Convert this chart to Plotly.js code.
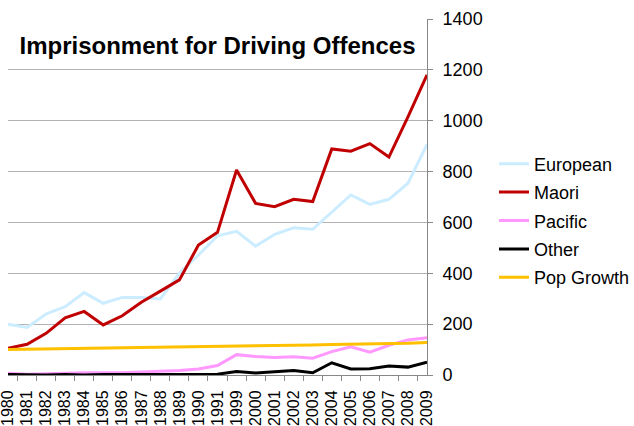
<!DOCTYPE html>
<html>
<head>
<meta charset="utf-8">
<script src="https://cdn.plot.ly/plotly-3.0.1.min.js"></script>
<style>html,body{margin:0;padding:0;background:#fff;}#chart{width:634px;height:426px;}</style>
</head>
<body>
<div id="chart"></div>
<script>
const years = ["1980","1981","1982","1983","1984","1985","1986","1987","1988","1989","1990","1991","1999","2000","2001","2002","2003","2004","2005","2006","2007","2008","2009"];
const european = [200,187,240,269,324,282,305,305,299,400,472,547,565,507,553,579,573,642,708,671,691,754,907];
const maori = [105,121,164,225,250,197,233,286,330,374,511,561,806,675,662,691,682,889,880,910,857,1015,1180];
const pacific = [7,3,5,8,9,9,9,12,14,18,24,37,80,73,69,72,66,92,111,90,117,138,147];
const other = [2,0,0,2,0,2,2,2,2,2,2,3,14,8,13,18,9,48,24,25,35,31,50];
const popGrowth = [100,101,102,104,105,106,107,108,109,110,112,113,114,115,116,117,118,120,121,122,123,125,128];
const yTicks = [0,200,400,600,800,1000,1200,1400];

const font = "Liberation Sans, Arial, sans-serif";
function tr(name, y, color, g){
  return {type:'scatter', mode:'lines', name:name, x:years, y:y, legendgroup:g,
    line:{color:color, width:3}, hoverinfo:'skip'};
}
const data = [
  tr('European', european, '#CCECFF', 'a'),
  tr('Maori', maori, '#C00000', 'b'),
  tr('Pacific', pacific, '#FF99FF', 'c'),
  tr('Other', other, '#000000', 'd'),
  tr('Pop Growth', popGrowth, '#FFC000', 'e')
];
const layout = {
  width:634, height:426,
  margin:{l:8, r:207, t:19, b:51},
  paper_bgcolor:'#fff', plot_bgcolor:'#fff',
  font:{family:font, color:'#000'},
  title:{text:'<b>Imprisonment for Driving Offences</b>', font:{family:font, size:24, color:'#000'},
    xref:'paper', x:0.5, xanchor:'center', yref:'container', y:1-46/426, yanchor:'middle'},
  xaxis:{type:'category', categoryorder:'array', categoryarray:years, tickangle:-90,
    tickfont:{size:16, family:font}, showgrid:false, zeroline:false,
    showline:true, linecolor:'#888', linewidth:1, ticks:'outside', tickson:'boundaries',
    ticklen:5, tickcolor:'#888', automargin:false, ticklabelstandoff:8, fixedrange:true},
  yaxis:{side:'right', range:[0,1400], tickvals:yTicks, ticktext:yTicks.map(String),
    tickfont:{size:18, family:font}, showgrid:true, gridcolor:'#b3b3b3', gridwidth:1,
    zeroline:false, showline:true, linecolor:'#888', linewidth:1, ticks:'outside',
    ticklen:5, tickcolor:'#888', automargin:false, ticklabelstandoff:6, fixedrange:true},
  showlegend:true,
  legend:{xref:'container', yref:'container', x:494/634, xanchor:'left', y:1-220.5/426, yanchor:'middle', traceorder:'grouped',
    tracegroupgap:2, font:{size:18, family:font, color:'#000'}, bgcolor:'rgba(0,0,0,0)', itemwidth:30}
};
Plotly.newPlot('chart', data, layout, {displayModeBar:false, staticPlot:true});
</script>
</body>
</html>
